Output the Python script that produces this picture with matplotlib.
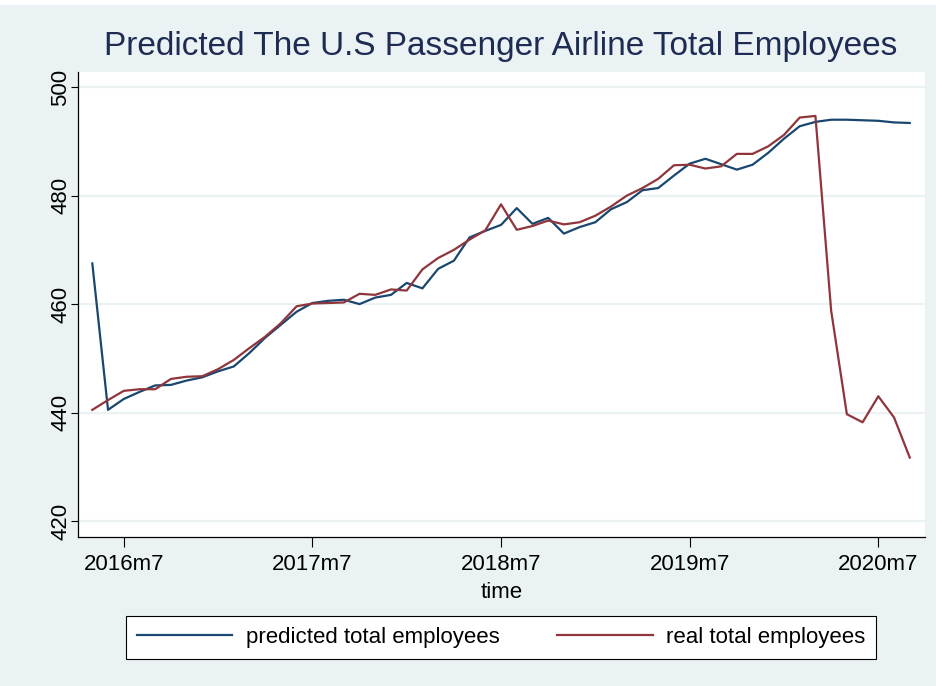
import numpy as np
import matplotlib
matplotlib.use("Agg")
import matplotlib.pyplot as plt
from matplotlib.patches import Rectangle

# months counted from 2016m7 (= 0), series runs 2016m5 .. 2020m9
months = list(range(-2, 51))

predicted = [
    467.5, 440.5,
    442.5, 443.8, 445.0, 445.1, 445.9, 446.5, 447.6, 448.5, 451.0, 453.8, 456.2, 458.6,
    460.2, 460.6, 460.8, 460.0, 461.2, 461.7, 463.9, 462.9, 466.5, 468.0, 472.3, 473.5,
    474.6, 477.7, 474.8, 475.9, 473.0, 474.2, 475.1, 477.5, 478.8, 481.0, 481.4, 483.7,
    485.9, 486.8, 485.8, 484.8, 485.7, 487.9, 490.5, 492.8, 493.6, 494.0, 494.0, 493.9,
    493.8, 493.5, 493.4,
]
real = [
    440.5, 442.3,
    444.0, 444.3, 444.3, 446.2, 446.6, 446.7, 448.0, 449.7, 451.9, 454.0, 456.5, 459.6,
    460.1, 460.2, 460.3, 461.9, 461.7, 462.7, 462.5, 466.4, 468.5, 470.0, 471.9, 473.6,
    478.4, 473.7, 474.4, 475.4, 474.7, 475.1, 476.3, 478.0, 480.0, 481.4, 483.1, 485.6,
    485.7, 485.0, 485.4, 487.7, 487.7, 489.1, 491.2, 494.4, 494.7, 458.8, 439.7, 438.2,
    443.0, 439.1, 431.7,
]

xtick_pos = [0, 12, 24, 36, 48]
xtick_labels = ["2016m7", "2017m7", "2018m7", "2019m7", "2020m7"]
ytick_pos = [420, 440, 460, 480, 500]

BG = "#EAF2F3"
NAVY = "#1A476F"
MAROON = "#90353B"

plt.rcParams["font.family"] = ["Liberation Sans", "DejaVu Sans"]

fig = plt.figure(figsize=(9.37, 6.86), dpi=100, facecolor=BG)
# thin white strip at the very top of the screenshot
fig.patches.append(Rectangle((0, 1 - 5 / 686), 1, 5 / 686, transform=fig.transFigure,
                             facecolor="white", edgecolor="none", zorder=0))

ax = fig.add_axes([78 / 937, 1 - 537 / 686, (925 - 78) / 937, (537 - 72) / 686])
ax.set_facecolor("white")

ax.plot(months, predicted, color=NAVY, lw=1.6, label="predicted total employees", zorder=3)
ax.plot(months, real, color=MAROON, lw=1.6, label="real total employees", zorder=3)

ax.set_xlim(-2.91, 50.97)
ax.set_ylim(417.05, 502.8)
ax.set_xticks(xtick_pos)
ax.set_xticklabels(xtick_labels)
ax.set_yticks(ytick_pos)
ax.grid(axis="y", color=BG, lw=1.6, zorder=1)
ax.set_axisbelow(True)

for s in ["top", "right"]:
    ax.spines[s].set_visible(False)
for s in ["left", "bottom"]:
    ax.spines[s].set_linewidth(0.9)
    ax.spines[s].set_color("black")

ax.tick_params(axis="x", length=7, width=0.8, labelsize=16, pad=5)
ax.tick_params(axis="y", length=5, width=0.8, labelsize=16, pad=0, labelrotation=90)
for lab in ax.get_yticklabels():
    lab.set_va("center")

ax.set_xlabel("time", fontsize=16, labelpad=5)
fig.text(0.534, 1 - 47 / 686, "Predicted The U.S Passenger Airline Total Employees",
         ha="center", va="center", fontsize=24, color="#1E2B52")

leg = fig.legend(loc="center", bbox_to_anchor=(0.5347, 1 - 637.5 / 686), ncol=2,
                 fontsize=16, handlelength=4.3, handletextpad=0.6, columnspacing=2.6,
                 frameon=True, fancybox=False, borderpad=0.5, framealpha=1)
leg.get_frame().set_edgecolor("black")
leg.get_frame().set_linewidth(0.8)
leg.get_frame().set_facecolor("white")

fig.savefig("out.png", dpi=100, facecolor=BG)
